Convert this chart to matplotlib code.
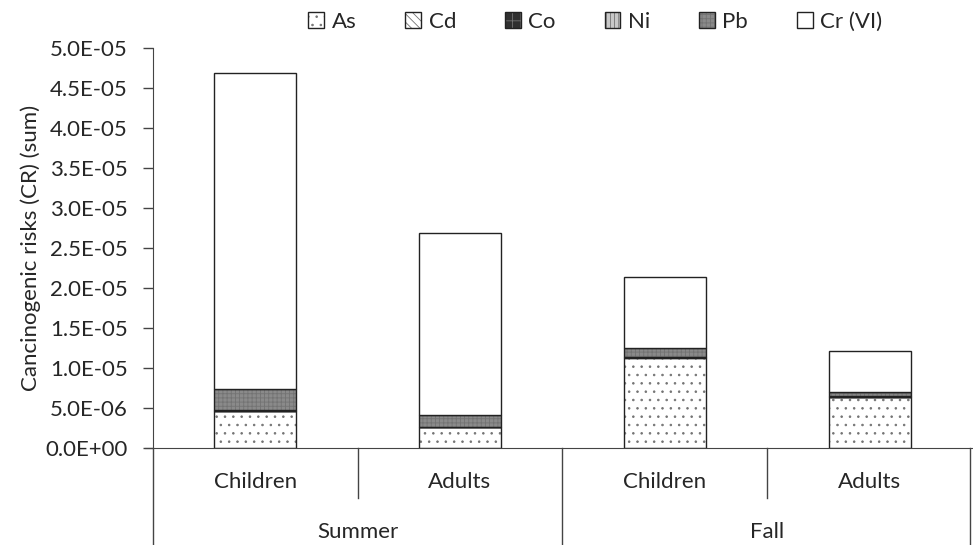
import numpy as np
import matplotlib
matplotlib.use('Agg')
import matplotlib.pyplot as plt
import matplotlib.transforms as mtransforms

plt.rcParams['font.family'] = ['Lato', 'DejaVu Sans']
plt.rcParams['hatch.linewidth'] = 0.6

# data
seasons = ['Summer', 'Fall']
groups = ['Children', 'Adults', 'Children', 'Adults']
metals = ['As', 'Cd', 'Co', 'Ni', 'Pb', 'Cr (VI)']
as_vals = [4.6e-6, 2.6e-6, 1.13e-5, 6.4e-6]
cd_vals = [4e-8, 2e-8, 4e-8, 2e-8]
co_vals = [2e-8, 1e-8, 2e-8, 1e-8]
ni_vals = [6e-8, 3e-8, 6e-8, 3e-8]
pb_vals = [2.7e-6, 1.45e-6, 1.1e-6, 5.4e-7]
cr_vals = [3.95e-5, 2.28e-5, 8.8e-6, 5.1e-6]
series = [as_vals, cd_vals, co_vals, ni_vals, pb_vals, cr_vals]

styles = [
    dict(facecolor='white', hatch='..'),
    dict(facecolor='white', hatch='\\\\\\\\'),
    dict(facecolor='#303030', hatch='++'),
    dict(facecolor='#c8c8c8', hatch='||||'),
    dict(facecolor='#8a8a8a', hatch='++++'),
    dict(facecolor='white', hatch=''),
]
fs = 16
txtc = '#262626'

fig = plt.figure(figsize=(9.73, 5.45), dpi=100)
ax = fig.add_axes([0.157, 0.178, 0.842, 0.734])

x = np.arange(len(groups))
bottom = np.zeros(len(groups))
handles = []
for name, vals, st in zip(metals, series, styles):
    b = ax.bar(x, vals, 0.4, bottom=bottom, edgecolor='#222222', linewidth=1.0,
               label=name, **st)
    for p in b:
        p._hatch_color = (0.45, 0.45, 0.45, 1.0)
    bottom += np.array(vals)
    handles.append(b)

ax.set_xlim(-0.5, 3.5)
ax.set_ylim(0, 5e-5)
ticks = np.arange(0, 5.01e-5, 5e-6)
ax.set_yticks(ticks)
ax.set_yticklabels([f'{t:.1E}' for t in ticks], fontsize=fs, color=txtc)
ax.set_xticks([])
ax.tick_params(axis='y', length=7, width=1, color='#444444', pad=11)
for s in ['top', 'right']:
    ax.spines[s].set_visible(False)
ax.spines['left'].set_color('#444444')
ax.spines['bottom'].set_color('#444444')
ax.spines['bottom'].set_bounds(-0.54, 3.5)
ax.set_ylabel('Cancinogenic risks (CR) (sum)', fontsize=fs, color=txtc, labelpad=3)

trans = mtransforms.blended_transform_factory(ax.transData, ax.transAxes)
for i, g in enumerate(groups):
    ax.text(i, -0.085, g, transform=trans, ha='center', va='center', fontsize=fs, color=txtc)
for i, s in enumerate(seasons):
    ax.text(2 * i + 0.5, -0.21, s, transform=trans, ha='center', va='center', fontsize=fs, color=txtc)
for xs in [-0.5, 1.5, 3.49]:
    ax.plot([xs, xs], [0, -0.26], transform=trans, color='#444444', lw=1, clip_on=False)
for xs in [0.5, 2.5]:
    ax.plot([xs, xs], [0, -0.125], transform=trans, color='#444444', lw=1, clip_on=False)

leg = fig.legend(handles=handles, labels=metals, loc='upper center', ncol=6, frameon=False,
                 bbox_to_anchor=(0.612, 1.015), fontsize=fs, handlelength=0.7, handleheight=0.7,
                 columnspacing=2.2, handletextpad=0.35)
for t in leg.get_texts():
    t.set_color(txtc)

fig.savefig('out.png', dpi=100)
